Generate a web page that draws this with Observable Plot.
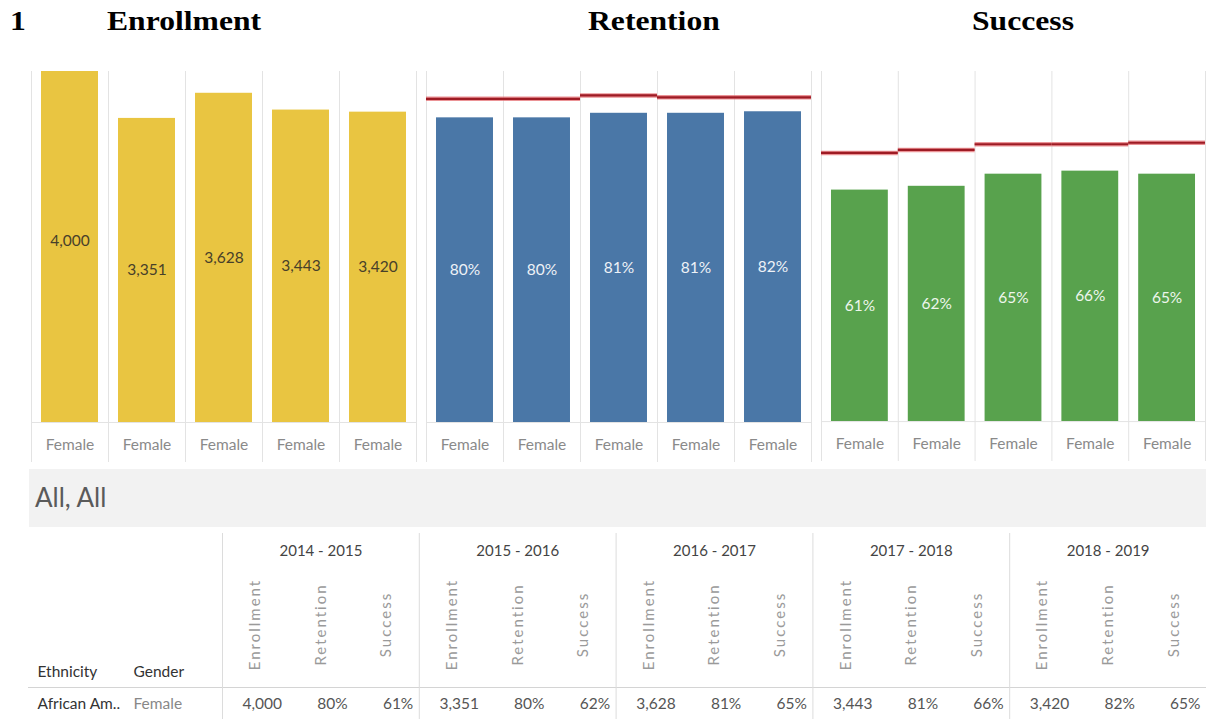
<!DOCTYPE html>
<html>
<head>
<meta charset="utf-8">
<script src="https://cdn.jsdelivr.net/npm/d3@7"></script>
<script src="https://cdn.jsdelivr.net/npm/@observablehq/plot@0.6"></script>
<style>
  html, body { margin: 0; padding: 0; background: #fff; }
  #root { position: relative; width: 1206px; height: 719px; overflow: hidden; background: #fff; font-family: Lato, "Open Sans", sans-serif; }
  .title { position: absolute; top: 7px; font-family: "Liberation Serif", "Times New Roman", serif; font-weight: bold; font-size: 28px; line-height: 28px; color: #000; transform: scaleX(1.13); transform-origin: left top; white-space: nowrap; }
  .panel { position: absolute; top: 71px; }
  #band { position: absolute; left: 29px; top: 469px; width: 1177px; height: 58px; background: #f2f2f2; }
  #bandText { position: absolute; left: 35px; top: 481px; font-family: Lato, sans-serif; font-size: 26px; line-height: 32px; color: #5a5a5a; }
  #table { position: absolute; left: 0; top: 530px; }
</style>
</head>
<body>
<div id="root">
  <div class="title" style="left:10px">1</div>
  <div class="title" style="left:107px">Enrollment</div>
  <div class="title" style="left:588px">Retention</div>
  <div class="title" style="left:972px">Success</div>
  <div class="panel" id="p1" style="left:30px"></div>
  <div class="panel" id="p2" style="left:425px"></div>
  <div class="panel" id="p3" style="left:820px"></div>
  <div id="band"></div>
  <div id="bandText">All, All</div>
  <div id="table"></div>
</div>
<script>
// ---- data ----
const years = ["2014 - 2015", "2015 - 2016", "2016 - 2017", "2017 - 2018", "2018 - 2019"];
const genders = ["Female", "Female", "Female", "Female", "Female"];
const ethnicity = "African Am..";
const measures = ["Enrollment", "Retention", "Success"];
const enrollment = [4000, 3351, 3628, 3443, 3420];
const retention = [80.2, 80.2, 81.4, 81.4, 81.8];
const retentionTarget = [85.2, 85.2, 86.1, 85.6, 85.6];
const success = [61.1, 62.1, 65.3, 66.1, 65.3];
const successTarget = [70.9, 71.7, 73.2, 73.2, 73.6];

const fmtCount = d3.format(",");
const fmtPct = v => Math.round(v) + "%";

function panel({values, targets, color, domainMax, fmt, labelColor}) {
  const rows = years.map((y, i) => ({year: y, gender: genders[i], value: values[i], target: targets ? targets[i] : null}));
  const half = 385 / years.length / 2;
  const marks = [
    Plot.ruleX(rows, {x: "year", dx: -half, stroke: "#e3e3e3", insetBottom: -40}),
    Plot.ruleX(rows.slice(-1), {x: "year", dx: half, stroke: "#e3e3e3", insetBottom: -40}),
    Plot.ruleY([0], {stroke: "#e3e3e3"}),
    Plot.barY(rows, {x: "year", y: "value", fill: color, clip: true})
  ];
  if (targets) {
    marks.push(Plot.tickY(rows, {x: "year", y: "target", stroke: "#e2656a", strokeWidth: 4.5, strokeOpacity: 0.7, insetLeft: -10, insetRight: -10}));
    marks.push(Plot.tickY(rows, {x: "year", y: "target", stroke: "#9e1b24", strokeWidth: 2.2, insetLeft: -10, insetRight: -10}));
  }
  marks.push(Plot.text(rows, {x: "year", y: d => d.value / 2, text: d => fmt(d.value), fill: labelColor, fontSize: 15.5}));
  marks.push(Plot.text(rows, {x: "year", text: "gender", frameAnchor: "bottom", lineAnchor: "middle", dy: 23, fill: "#8a8a8a", fontSize: 15.5}));
  return Plot.plot({
    width: 387, height: 391,
    marginTop: 0, marginBottom: 40, marginLeft: 1, marginRight: 1,
    x: {type: "band", domain: years, paddingInner: 0.26, paddingOuter: 0.13, round: false, axis: null},
    y: {domain: [0, domainMax], axis: null},
    style: {background: "transparent", fontFamily: "Lato, sans-serif", overflow: "visible"},
    marks
  });
}

document.getElementById("p1").append(panel({values: enrollment, color: "#e9c541", domainMax: 3868, fmt: fmtCount, labelColor: "#47402a"}));
document.getElementById("p2").append(panel({values: retention, targets: retentionTarget, color: "#4a77a7", domainMax: 92.4, fmt: fmtPct, labelColor: "#eef2f7"}));
document.getElementById("p3").append(panel({values: success, targets: successTarget, color: "#58a24d", domainMax: 92.4, fmt: fmtPct, labelColor: "#eef6ec"}));

// ---- table ----
const series = {Enrollment: enrollment, Retention: retention, Success: success};
const formats = {Enrollment: fmtCount, Retention: fmtPct, Success: fmtPct};
const cells = years.flatMap((y, i) => measures.map(m => ({
  year: y, measure: m, key: y + "|" + m, label: formats[m](series[m][i])
})));
const step = 984 / cells.length;

const table = Plot.plot({
  width: 1206, height: 189,
  marginTop: 0, marginBottom: 32, marginLeft: 28, marginRight: 0,
  x: {type: "band", domain: cells.map(d => d.key), range: [222, 1206], padding: 0, round: false, axis: null},
  y: {domain: [0, 1], axis: null},
  style: {background: "transparent", fontFamily: "Lato, sans-serif", overflow: "visible"},
  marks: [
    Plot.ruleY([0], {stroke: "#d4d4d4"}),
    Plot.ruleX(years, {x: y => y + "|Enrollment", dx: -step / 2, insetTop: 3, insetBottom: -32, stroke: "#dcdcdc"}),
    Plot.text(years, {x: y => y + "|Retention", text: d => d, frameAnchor: "top", lineAnchor: "middle", dy: 21, fontSize: 15, fill: "#444"}),
    Plot.text(cells, {x: "key", text: "measure", rotate: -90, frameAnchor: "top", lineAnchor: "middle", dy: 94, fill: "#9a9a9a", fontSize: 15}),
    Plot.text(cells, {x: "key", text: "label", frameAnchor: "bottom", lineAnchor: "middle", dy: 17, dx: step / 2 - 6, textAnchor: "end", fill: "#555", fontSize: 15.5}),
    Plot.text(["Ethnicity"], {text: d => d, frameAnchor: "bottom-left", lineAnchor: "middle", dx: 9, dy: -15, textAnchor: "start", fill: "#333", fontSize: 15.5}),
    Plot.text(["Gender"], {text: d => d, frameAnchor: "bottom-left", lineAnchor: "middle", dx: 105, dy: -15, textAnchor: "start", fill: "#333", fontSize: 15.5}),
    Plot.text([ethnicity], {text: d => d, frameAnchor: "bottom-left", lineAnchor: "middle", dx: 9, dy: 17, textAnchor: "start", fill: "#333", fontSize: 15.5}),
    Plot.text([genders[0]], {text: d => d, frameAnchor: "bottom-left", lineAnchor: "middle", dx: 105, dy: 17, textAnchor: "start", fill: "#888", fontSize: 15.5})
  ]
});
// Tableau-style spaced rotated column headers
table.querySelectorAll("text").forEach(t => {
  if (measures.includes(t.textContent)) t.style.letterSpacing = "2px";
});
document.getElementById("table").append(table);
</script>
</body>
</html>
